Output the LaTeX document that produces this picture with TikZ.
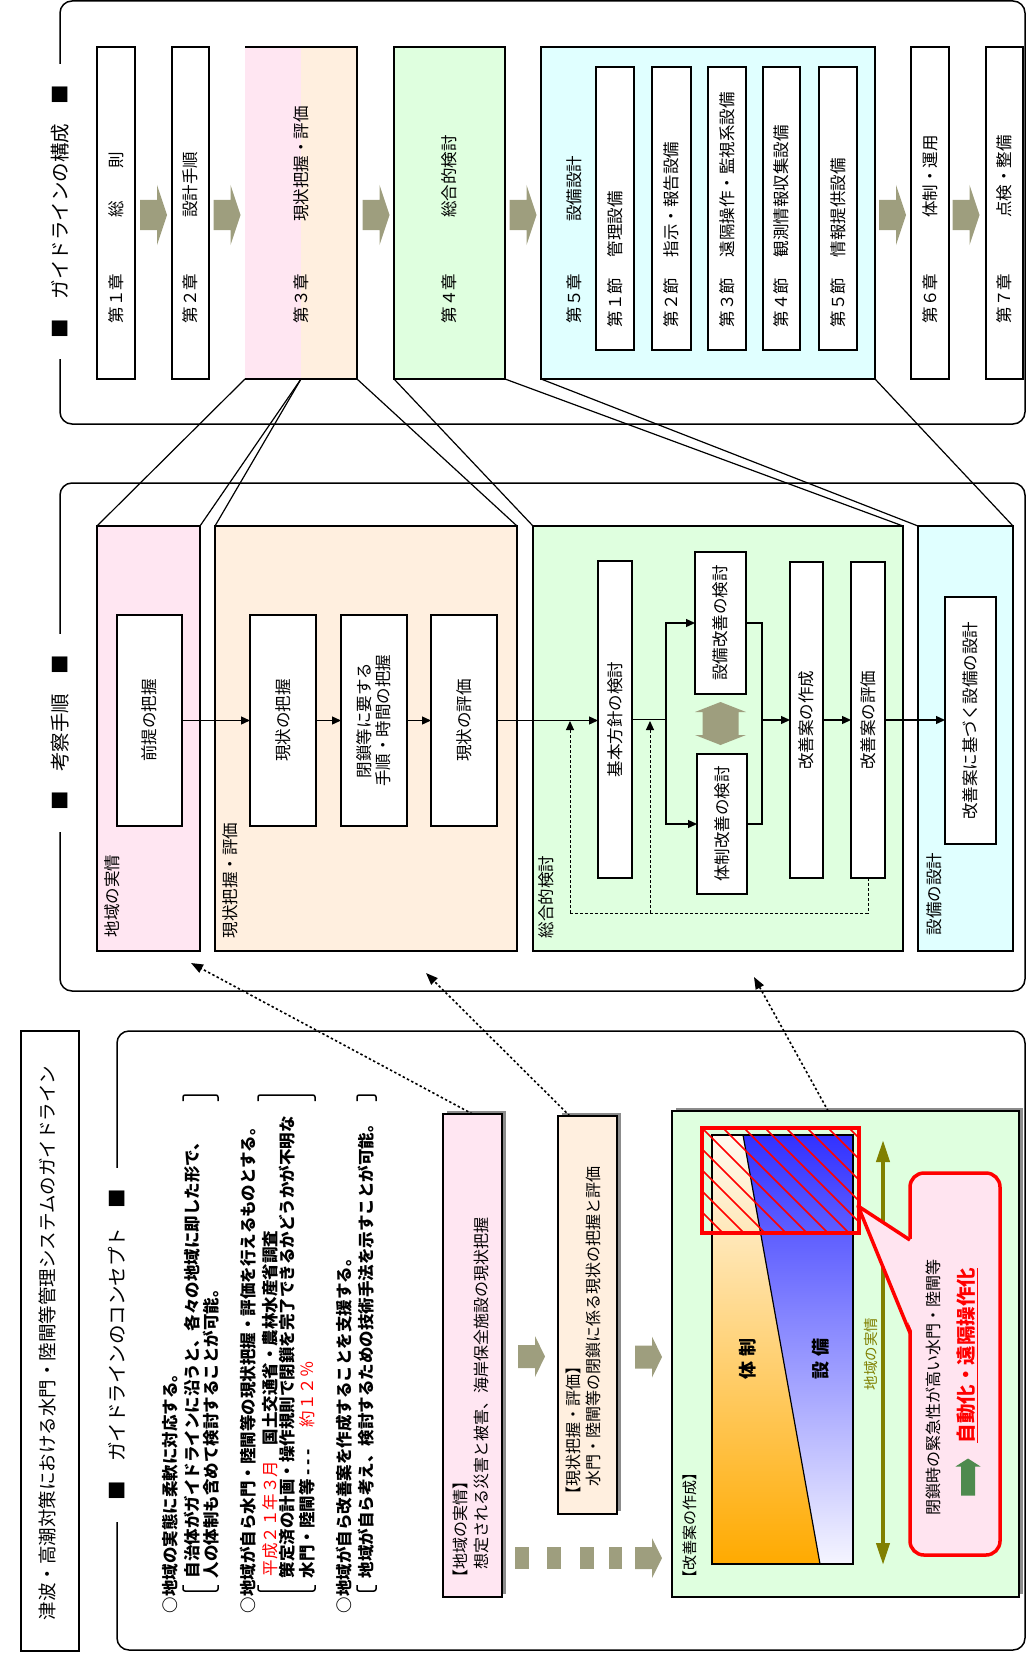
\documentclass[tikz,border=0pt]{standalone}
\usepackage{fontspec}
\setmainfont{Noto Sans CJK JP}
\usetikzlibrary{arrows.meta,calc,shadows}
\definecolor{pinkc}{RGB}{255,230,242}
\definecolor{peachc}{RGB}{255,239,223}
\definecolor{greenc}{RGB}{223,255,223}
\definecolor{cyanc}{RGB}{224,255,255}
\definecolor{arrowc}{RGB}{158,158,126}
\definecolor{olivec}{RGB}{128,128,0}
\definecolor{dkgreen}{RGB}{78,138,78}
\definecolor{callpink}{RGB}{255,228,240}
\definecolor{orangec}{RGB}{255,170,0}
\definecolor{creamc}{RGB}{255,250,240}
\definecolor{bluec}{RGB}{50,50,255}
\definecolor{paleblue}{RGB}{245,245,255}
\definecolor{redc}{RGB}{255,0,0}
\newcommand{\bxn}[6]{%
  \pgfmathsetmacro{\bxw}{#5-#3}\pgfmathsetmacro{\bxh}{#6-#4}%
  \pgfmathsetmacro{\bxx}{(#3+#5)/2}\pgfmathsetmacro{\bxy}{(#4+#6)/2}%
  \node[#2, minimum width=\bxw pt, minimum height=\bxh pt] (#1) at (\bxx,\bxy) {};}
% fat arrow pointing right: cx cy length headwidth bodywidth headlength
\newcommand{\fatR}[6]{%
  \fill[arrowc] ({#1-#3/2},{#2-#5/2}) -- ({#1+#3/2-#6},{#2-#5/2}) -- ({#1+#3/2-#6},{#2-#4/2})
   -- ({#1+#3/2},{#2}) -- ({#1+#3/2-#6},{#2+#4/2}) -- ({#1+#3/2-#6},{#2+#5/2}) -- ({#1-#3/2},{#2+#5/2}) -- cycle;}
% fat arrow pointing up: cx cy length headwidth bodywidth headlength colour
\newcommand{\fatU}[7]{%
  \fill[#7] ({#1-#5/2},{#2+#3/2}) -- ({#1-#5/2},{#2-#3/2+#6}) -- ({#1-#4/2},{#2-#3/2+#6})
   -- ({#1},{#2-#3/2}) -- ({#1+#4/2},{#2-#3/2+#6}) -- ({#1+#5/2},{#2-#3/2+#6}) -- ({#1+#5/2},{#2+#3/2}) -- cycle;}
% fat double arrow up/down: cx cy length headwidth bodywidth headlength
\newcommand{\fatUD}[6]{%
  \fill[arrowc] ({#1},{#2-#3/2}) -- ({#1+#4/2},{#2-#3/2+#6}) -- ({#1+#5/2},{#2-#3/2+#6})
   -- ({#1+#5/2},{#2+#3/2-#6}) -- ({#1+#4/2},{#2+#3/2-#6}) -- ({#1},{#2+#3/2})
   -- ({#1-#4/2},{#2+#3/2-#6}) -- ({#1-#5/2},{#2+#3/2-#6}) -- ({#1-#5/2},{#2-#3/2+#6})
   -- ({#1-#4/2},{#2-#3/2+#6}) -- cycle;}
\begin{document}
\begin{tikzpicture}[x=1pt,y=-1pt,
  box/.style={draw, line width=1.4pt, fill=white, inner sep=0pt, outer sep=0pt},
  panel/.style={draw, line width=1.4pt, inner sep=0pt, outer sep=0pt},
  plain/.style={inner sep=0pt, outer sep=0pt},
  rt/.style={rotate=90, inner sep=0pt, outer sep=0pt, font=\fontsize{16.5}{19}\selectfont},
  rtw/.style={rt, anchor=west},
  ctx/.style={rtw, font=\bfseries\fontsize{16.5}{19}\selectfont},
  frame/.style={line width=1.5pt, rounded corners=12pt},
  sectitle/.style={rotate=90, fill=white, inner xsep=21pt, inner ysep=3pt, font=\fontsize{19.5}{22}\selectfont},
  conn/.style={line width=1.2pt},
  flow/.style={line width=1.3pt, -{Triangle[length=9pt,width=8pt]}},
  fb/.style={line width=1pt, dash pattern=on 3pt off 2pt},
  fbarrow/.style={fb, -{Triangle[length=9pt,width=8pt]}},
  dotarr/.style={line width=1.6pt, dash pattern=on 2.4pt off 2.4pt, -{Triangle[length=12pt,width=9pt]}},
  shad/.style={drop shadow={shadow xshift=4pt, shadow yshift=3pt, fill=black!45, opacity=1}},
  brk/.style={line width=1.5pt, rounded corners=2pt}
]
\useasboundingbox (0,0) rectangle (1027,1656);

% ================= structure section =================
\draw[frame] (60,1) rectangle (1025,424);
\node[sectitle] (st1) at (60,211.5) {■\quad ガイドラインの構成\quad ■};

\bxn{c1}{box}{97}{47}{135}{379}
\bxn{c2}{box}{172}{47}{209}{379}
\fill[pinkc] (245,47) rectangle (301,379);
\fill[peachc] (301,47) rectangle (357,379);
\bxn{c3}{plain}{245}{47}{357}{379}
\draw[line width=1.4pt] (c3.north west) -- (c3.north east) -- (c3.south east) -- (c3.south west);
\bxn{c4}{box, fill=greenc}{394}{47}{505}{379}
\bxn{c5}{box, fill=cyanc}{541}{47}{875}{379}
\bxn{s1}{box}{596}{67}{634}{350}
\bxn{s2}{box}{652}{67}{691}{350}
\bxn{s3}{box}{708}{67}{746}{350}
\bxn{s4}{box}{763}{67}{800}{350}
\bxn{s5}{box}{819}{67}{857}{350}
\bxn{c6}{box}{911}{47}{949}{379}
\bxn{c7}{box}{986}{47}{1023}{379}

\fatR{153.5}{215}{27}{60}{30}{10}
\fatR{227}{215}{27}{60}{30}{10}
\fatR{376}{215}{27}{60}{30}{10}
\fatR{523}{215}{27}{60}{30}{10}
\fatR{892.5}{215}{27}{60}{30}{10}
\fatR{966}{215}{27}{60}{30}{10}

\node[rtw] at (116,323) {第１章};   \node[rtw] at (116,218) {総　　則};
\node[rtw] at (190.5,323) {第２章}; \node[rtw] at (190.5,218) {設計手順};
\node[rtw] at (301,323) {第３章};   \node[rtw] at (301,222) {現状把握・評価};
\node[rtw] at (449.5,323) {第４章}; \node[rtw] at (449.5,218) {総合的検討};
\node[rtw] at (574,323) {第５章};   \node[rtw] at (574,222) {設備設計};
\node[rtw] at (615,327) {第１節};   \node[rtw] at (615,257) {管理設備};
\node[rtw] at (671.5,327) {第２節}; \node[rtw] at (671.5,257) {指示・報告設備};
\node[rtw] at (727,327) {第３節};   \node[rtw] at (727,257) {遠隔操作・監視系設備};
\node[rtw] at (781.5,327) {第４節}; \node[rtw] at (781.5,257) {観測情報収集設備};
\node[rtw] at (838,327) {第５節};   \node[rtw] at (838,257) {情報提供設備};
\node[rtw] at (930,323) {第６章};   \node[rtw] at (930,218) {体制・運用};
\node[rtw] at (1004.5,323) {第７章};\node[rtw] at (1004.5,218) {点検・整備};

% ================= study procedure section =================
\draw[frame] (60,483) rectangle (1025,991);
\node[sectitle] (st2) at (60,732.5) {■\quad 考察手順\quad ■};

\bxn{P1}{panel, fill=pinkc}{97}{526}{200}{951}
\bxn{P2}{panel, fill=peachc}{215}{526}{517}{951}
\bxn{P3}{panel, fill=greenc}{533}{526}{903}{951}
\bxn{P4}{panel, fill=cyanc}{918}{526}{1013}{951}
\node[rtw] at (112,937) {地域の実情};
\node[rtw] at (230,938) {現状把握・評価};
\node[rtw] at (546,938) {総合的検討};
\node[rtw] at (934,935) {設備の設計};

\bxn{k1}{box}{117}{615}{182}{826}
\bxn{k2}{box}{250}{615}{316}{826}
\bxn{k3}{box}{341}{615}{407}{826}
\bxn{k4}{box}{431}{615}{497}{826}
\bxn{g1}{box}{598}{561}{632}{878}
\bxn{g2}{box}{695}{552}{746}{694}
\bxn{g3}{box}{697}{754}{747}{894}
\bxn{g4}{box}{790}{562}{823}{878}
\bxn{g5}{box}{851}{562}{885}{878}
\bxn{d1}{box}{945}{597}{996}{844}
\node[rt] at (k1) {前提の把握};
\node[rt] at (k2) {現状の把握};
\node[rt, align=center] at (k3) {閉鎖等に要する\\手順・時間の把握};
\node[rt] at (k4) {現状の評価};
\node[rt] at (g1) {基本方針の検討};
\node[rt] at (g2) {設備改善の検討};
\node[rt] at (g3) {体制改善の検討};
\node[rt] at (g4) {改善案の作成};
\node[rt] at (g5) {改善案の評価};
\node[rt] at (d1) {改善案に基づく設備の設計};

\fatUD{720.5}{723.5}{43}{51}{36}{10}

\draw[flow] (k1.east) -- (k2.west);
\draw[flow] (k2.east) -- (k3.west);
\draw[flow] (k3.east) -- (k4.west);
\draw[flow] (k4.east) -- (k4.east -| g1.west);
\coordinate (br) at (666,719.5);
\draw[conn] (g1.east) -- (br);
\draw[flow] (br) |- (g2.west);
\draw[flow] (br) |- (g3.west);
\coordinate (mg) at (762,720);
\draw[conn] (g2.east) -| (mg);
\draw[conn] (g3.east) -| (mg);
\draw[flow] (mg) -- (mg -| g4.west);
\draw[flow] (g4.east) -- (g5.west);
\draw[flow] (g5.east) -- (g5.east -| d1.west);
\coordinate (fbA) at (570,913); \coordinate (fbB) at (650,913);
\coordinate (tA) at (570,721);  \coordinate (tB) at (650,721);
\draw[fb] (g5.south) |- (fbA);
\draw[fbarrow] (fbA) -- (tA);
\draw[fbarrow] (fbB) -- (tB);

% connectors structure -> procedure
\draw[conn] (c3.south west) -- (P1.north west);
\draw[conn] (c3.south) -- (P1.north east);
\draw[conn] (c3.south) -- (P2.north west);
\draw[conn] (c3.south east) -- (P2.north east);
\draw[conn] (c4.south west) -- (P3.north west);
\draw[conn] (c4.south east) -- (P3.north east);
\draw[conn] (c5.south west) -- (P4.north west);
\draw[conn] (c5.south east) -- (P4.north east);

% ================= concept section =================
\draw[frame] (117,1031) rectangle (1025,1650);
\node[sectitle] (st3) at (117,1344.5) {■\quad ガイドラインのコンセプト\quad ■};
\bxn{tb}{box}{21}{1031}{79}{1651}
\node[rt, font=\fontsize{18.5}{20}\selectfont] (tbt) at (47,1343) {津波・高潮対策における水門・陸閘等管理システムのガイドライン};

\node[ctx] at (170,1613) {○地域の実態に柔軟に対応する。};
\node[ctx] at (192,1578) {自治体がガイドラインに沿うと、各々の地域に即した形で、};
\node[ctx] at (211,1578) {人の体制も含めて検討することが可能。};
\node[ctx] at (248,1613) {○地域が自ら水門・陸閘等の現状把握・評価を行えるものとする。};
\node[ctx, text=redc, font=\fontsize{16.5}{19}\selectfont] at (270,1576) {平成２１年３月};
\node[ctx] at (270,1445) {国土交通省・農林水産省調査};
\node[ctx] at (287,1578) {策定済の計画・操作規則で閉鎖を完了できるかどうかが不明な};
\node[ctx] at (307,1578) {水門・陸閘等\ -\ -\ -};
\node[ctx, text=redc, font=\fontsize{16.5}{19}\selectfont] at (307,1427) {約１２％};
\node[ctx] at (344,1613) {○地域が自ら改善案を作成することを支援する。};
\node[ctx] at (366,1578) {地域が自ら考え、検討するための技術手法を示すことが可能。};
\draw[brk] (183,1585) -- (183,1591) -- (218,1591) -- (218,1585);
\draw[brk] (183,1101) -- (183,1095) -- (218,1095) -- (218,1101);
\draw[brk] (258,1585) -- (258,1591) -- (315,1591) -- (315,1585);
\draw[brk] (258,1101) -- (258,1095) -- (315,1095) -- (315,1101);
\draw[brk] (357,1585) -- (357,1591) -- (376,1591) -- (376,1585);
\draw[brk] (357,1101) -- (357,1095) -- (376,1095) -- (376,1101);

\bxn{cb1}{box, fill=pinkc, shad}{443}{1114}{502}{1597}
\bxn{cb2}{box, fill=peachc, shad}{558}{1116}{617}{1514}
\bxn{cb3}{box, fill=greenc, shad}{672}{1111}{1019}{1597}
\node[rtw, font=\fontsize{16}{18}\selectfont] at (460,1585) {【地域の実情】};
\node[rtw, font=\fontsize{16}{18}\selectfont] at (481,1585) {　想定される災害と被害、海岸保全施設の現状把握};
\node[rtw, font=\fontsize{16}{18}\selectfont] at (573,1502) {【現状把握・評価】};
\node[rtw, font=\fontsize{16}{18}\selectfont] at (593,1502) {　水門・陸閘等の閉鎖に係る現状の把握と評価};
\node[rtw, font=\fontsize{15}{17}\selectfont] at (690,1585) {【改善案の作成】};

\fatR{531.5}{1356.5}{27}{41}{23}{10}
\fatR{648.5}{1357}{27}{41}{23}{10}
\fill[arrowc] (515,1547) rectangle (529,1569);
\fill[arrowc] (547,1547) rectangle (561,1569);
\fill[arrowc] (580,1547) rectangle (594,1569);
\fill[arrowc] (609,1547) rectangle (622,1569);
\fatR{648.5}{1558}{27}{40}{22}{10}

% chart
\shade[top color=creamc, bottom color=orangec] (712,1135) -- (743,1135) -- (820,1564) -- (712,1564) -- cycle;
\shade[top color=bluec, bottom color=paleblue] (743,1135) -- (853,1135) -- (853,1564) -- (820,1564) -- cycle;
\bxn{chart}{panel}{712}{1135}{853}{1564}
\coordinate (dg1) at (743,1135); \coordinate (dg2) at (820,1564);
\draw[line width=1.2pt] (dg1) -- (dg2);
\node[rtw, font=\bfseries\fontsize{18}{20}\selectfont] at (748,1379) {体\hspace{5pt}制};
\node[rtw, font=\bfseries\fontsize{18}{20}\selectfont] at (821,1379) {設\hspace{5pt}備};
\begin{scope}
  \clip (702,1128) rectangle (859,1233);
  \foreach \k in {0,...,13} \draw[redc, line width=1.6pt] ({597+\k*21},1128) -- ++(105,105);
\end{scope}
\bxn{hr}{draw=redc, line width=4pt, inner sep=0pt, outer sep=0pt}{702}{1128}{859}{1233}

\coordinate (oa1) at (883,1140); \coordinate (oa2) at (883,1565);
\draw[olivec, line width=4pt, {Triangle[length=22pt,width=13pt]}-{Triangle[length=22pt,width=13pt]}] (oa1) -- (oa2);
\node[rtw, font=\fontsize{14.5}{16}\selectfont, text=olivec] at (871,1390) {地域の実情};

\bxn{call}{draw=redc, line width=3.5pt, fill=callpink, rounded corners=14pt, inner sep=0pt, outer sep=0pt}{910}{1173}{1000}{1555}
\coordinate (ptip) at (858,1206);
\fill[callpink] (913,1240) -- (ptip) -- (913,1333) -- cycle;
\draw[redc, line width=3.5pt, line join=round] (910,1240) -- (ptip) -- (910,1333);
\node[rtw, font=\fontsize{16}{18}\selectfont] at (933,1515) {閉鎖時の緊急性が高い水門・陸閘等};
\fatU{968}{1477}{37}{25}{14}{8}{dkgreen}
\node[rtw, text=redc, font=\bfseries\fontsize{19.5}{22}\selectfont] at (967,1443) {\underline{自動化・遠隔操作化}};

% dotted arrows concept -> procedure
\coordinate (e1) at (191,963);
\coordinate (e2) at (426,973);
\coordinate (e3) at (754,977);
\draw[dotarr] (cb1.north) -- (e1);
\draw[dotarr] ($(cb2.north west)!0.2!(cb2.north east)$) -- (e2);
\draw[dotarr] ($(cb3.north west)!0.45!(cb3.north east)$) -- (e3);
\end{tikzpicture}
\end{document}
